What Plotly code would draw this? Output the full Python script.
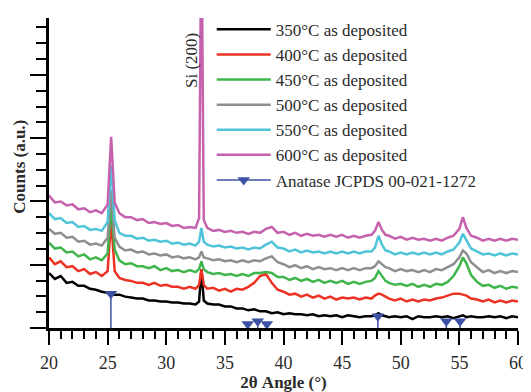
import plotly.graph_objects as go

# 2-theta grid (degrees)
two_theta = [20.0, 20.5, 21.0, 21.5, 22.0, 22.5, 23.0, 23.5, 24.0, 24.5, 25.0, 25.3, 25.6,
             26.0, 26.5, 27.0, 27.5, 28.0, 28.5, 29.0, 29.5, 30.0, 30.5, 31.0, 31.5, 32.0, 32.5,
             32.8, 33.0, 33.2, 33.5, 34.0, 34.5, 35.0, 35.5, 36.0, 36.5, 37.0, 37.5, 38.0, 38.5,
             39.0, 39.5, 40.0, 40.5, 41.0, 41.5, 42.0, 42.5, 43.0, 43.5, 44.0, 44.5, 45.0, 45.5,
             46.0, 46.5, 47.0, 47.5, 47.8, 48.1, 48.4, 48.7, 49.0, 49.5, 50.0, 50.5, 51.0, 51.5,
             52.0, 52.5, 53.0, 53.5, 54.0, 54.5, 55.0, 55.3, 55.6, 56.0, 56.5, 57.0, 57.5, 58.0,
             58.5, 59.0, 59.5, 60.0]

counts_350 = [56, 50, 53, 46, 47, 43, 43, 40, 39, 37, 36, 35, 34,
              34, 32, 31, 30, 30, 28, 28, 27, 27, 26, 26, 25, 25, 24,
              27, 60, 28, 25, 24, 24, 22, 22, 20, 20, 18, 19, 17, 17,
              15, 16, 14, 15, 14, 14, 13, 14, 12, 13, 12, 13, 11, 13,
              12, 11, 12, 12, 13, 15, 13, 12, 11, 12, 11, 12, 9, 12,
              11, 11, 12, 11, 12, 10, 12, 13, 11, 12, 11, 11, 12, 11,
              12, 10, 12, 11]
counts_400 = [72, 65, 68, 62, 63, 58, 60, 55, 57, 53, 58, 111, 58,
              51, 49, 48, 46, 46, 44, 46, 43, 44, 42, 42, 40, 42, 40,
              44, 60, 44, 40, 41, 38, 40, 37, 40, 39, 42, 46, 53, 55,
              46, 39, 37, 34, 35, 32, 34, 31, 33, 30, 32, 29, 31, 30,
              31, 29, 31, 30, 33, 35, 34, 32, 30, 28, 30, 27, 29, 27,
              29, 28, 30, 31, 33, 35, 35, 34, 33, 30, 29, 27, 29, 26,
              28, 26, 28, 27]
counts_450 = [87, 81, 82, 77, 78, 73, 75, 70, 72, 69, 76, 125, 80,
              69, 65, 66, 63, 63, 61, 63, 59, 61, 58, 59, 57, 59, 57,
              60, 68, 60, 57, 55, 56, 54, 55, 53, 55, 53, 56, 56, 57,
              56, 52, 52, 49, 51, 48, 50, 47, 49, 46, 48, 46, 48, 45,
              47, 45, 47, 48, 51, 58, 53, 48, 46, 44, 45, 43, 45, 42,
              44, 42, 45, 44, 47, 53, 63, 72, 66, 54, 47, 43, 44, 41,
              43, 40, 42, 41]
counts_500 = [101, 96, 97, 92, 93, 88, 89, 85, 86, 84, 92, 141, 92,
              83, 79, 80, 77, 78, 75, 76, 74, 75, 72, 73, 71, 72, 70,
              72, 78, 72, 71, 69, 70, 68, 69, 67, 69, 67, 69, 68, 71,
              73, 67, 65, 62, 64, 61, 63, 60, 62, 60, 61, 59, 61, 59,
              61, 59, 61, 61, 63, 68, 65, 62, 61, 58, 60, 58, 59, 57,
              59, 57, 60, 59, 62, 65, 72, 79, 76, 67, 62, 57, 59, 56,
              58, 56, 58, 57]
counts_550 = [117, 111, 112, 107, 108, 103, 104, 100, 101, 99, 108, 166, 110,
              97, 94, 94, 91, 92, 89, 90, 88, 89, 86, 87, 85, 86, 84,
              88, 102, 88, 85, 83, 84, 82, 83, 81, 82, 80, 82, 81, 85,
              88, 82, 81, 78, 80, 77, 79, 77, 78, 76, 78, 76, 78, 76,
              78, 76, 78, 78, 82, 94, 85, 79, 78, 75, 77, 75, 77, 75,
              77, 75, 77, 75, 78, 80, 87, 96, 89, 81, 78, 75, 76, 74,
              76, 74, 76, 75]
counts_600 = [135, 128, 129, 125, 126, 121, 122, 118, 120, 117, 126, 195, 128,
              117, 113, 113, 110, 111, 107, 108, 106, 107, 104, 105, 102, 103, 102,
              112, 420, 110, 102, 99, 100, 98, 99, 97, 98, 96, 98, 97, 101,
              103, 97, 98, 95, 97, 94, 96, 94, 95, 93, 95, 93, 95, 92,
              94, 92, 94, 95, 99, 108, 100, 95, 94, 91, 93, 90, 92, 90,
              91, 89, 91, 89, 92, 94, 101, 113, 102, 94, 92, 89, 91, 89,
              91, 89, 91, 90]

series_names = ["350°C as deposited", "400°C as deposited", "450°C as deposited",
                "500°C as deposited", "550°C as deposited", "600°C as deposited"]
series_colors = ["#000000", "#ec3323", "#3fb54b", "#8f8f8f", "#4fc4d9", "#c561ad"]
series_values = [counts_350, counts_400, counts_450, counts_500, counts_550, counts_600]

# Anatase reference pattern (JCPDS 00-021-1272)
anatase_pos = [25.28, 36.95, 37.80, 38.58, 48.05, 53.89, 55.06]
anatase_int = [35, 4, 7, 4, 12, 7, 7]

x_ticks = [20, 25, 30, 35, 40, 45, 50, 55, 60]

SERIF = "Liberation Serif, Times New Roman, serif"
TXT = "#2b2b2b"

fig = go.Figure()
for name, col, vals in zip(series_names, series_colors, series_values):
    fig.add_trace(go.Scatter(x=two_theta, y=vals, mode="lines", name=name,
                             line=dict(color=col, width=2.5)))

ax, ay, sym = [], [], []
for p, h in zip(anatase_pos, anatase_int):
    ax += [p, p, None]
    ay += [h, 0, None]
    sym += ["triangle-down", "line-ew", "line-ew"]
fig.add_trace(go.Scatter(x=ax, y=ay, mode="lines+markers", name="Anatase JCPDS 00-021-1272",
                         line=dict(color="#3d52a6", width=1.5),
                         marker=dict(symbol=sym, size=11, color="#3d52a6",
                                     line=dict(width=0))))

fig.add_annotation(x=32.1, y=273, text="Si (200)", textangle=-90, showarrow=False,
                   font=dict(family=SERIF, size=17, color=TXT))
fig.add_annotation(xref="paper", yref="paper", x=-0.062, y=0.52, xanchor="center",
                   yanchor="middle", text="<b>Counts (a.u.)</b>",
                   textangle=-90, showarrow=False,
                   font=dict(family=SERIF, size=17, color=TXT))

# the page body adds an 8 px offset; the figure is sized so the plot area
# lands at x 49-518, y 12-328 of the 531x392 window
fig.update_layout(
    width=523, height=384,
    margin=dict(l=41, r=13, t=4, b=64),
    paper_bgcolor="white", plot_bgcolor="white",
    showlegend=True,
    legend=dict(x=0.347, y=1.02, xanchor="left", yanchor="top",
                bgcolor="rgba(0,0,0,0)", borderwidth=0,
                font=dict(family=SERIF, size=17, color=TXT),
                itemwidth=54, tracegroupgap=0),
    xaxis=dict(range=[20, 60], tickvals=x_ticks, ticktext=[str(v) for v in x_ticks],
               automargin=False, ticklabelstandoff=3,
               ticks="outside", ticklen=14, tickwidth=2, tickcolor="black",
               showline=True, linewidth=2.5, linecolor="black",
               showgrid=False, zeroline=False,
               minor=dict(dtick=1, ticks="outside", ticklen=8, tickwidth=2,
                          tickcolor="black", showgrid=False),
               tickfont=dict(family=SERIF, size=18, color=TXT),
               title=dict(text="2θ Angle (°)", standoff=6,
                          font=dict(family=SERIF, size=17, color=TXT, weight="bold"))),
    yaxis=dict(range=[0, 316], tick0=0, dtick=64.5, automargin=False,
               ticks="outside", ticklen=16, tickwidth=2, tickcolor="black",
               showticklabels=False,
               showline=True, linewidth=2.5, linecolor="black",
               showgrid=False, zeroline=False,
               minor=dict(dtick=16.125, ticks="outside", ticklen=10, tickwidth=2,
                          tickcolor="black", showgrid=False)),
)

fig.write_html("out.html")
